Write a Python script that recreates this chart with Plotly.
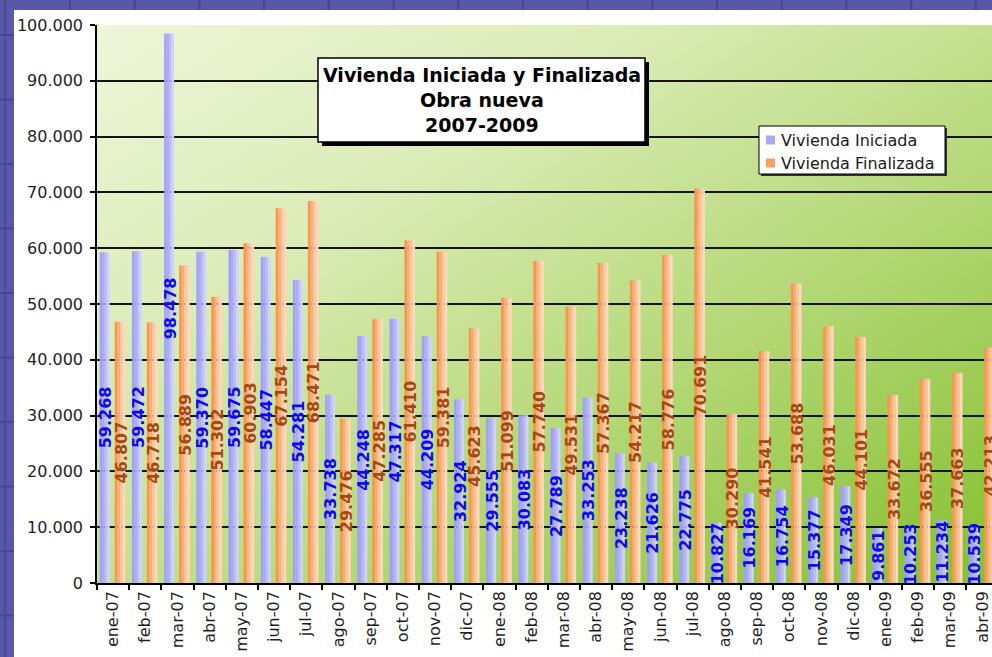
import base64
import plotly.graph_objects as go

# ---- data ----
months = ["ene-07", "feb-07", "mar-07", "abr-07", "may-07", "jun-07", "jul-07",
          "ago-07", "sep-07", "oct-07", "nov-07", "dic-07",
          "ene-08", "feb-08", "mar-08", "abr-08", "may-08", "jun-08", "jul-08",
          "ago-08", "sep-08", "oct-08", "nov-08", "dic-08",
          "ene-09", "feb-09", "mar-09", "abr-09"]

iniciada = [59268, 59472, 98478, 59370, 59675, 58447, 54281, 33738, 44248, 47317,
            44209, 32924, 29555, 30083, 27789, 33253, 23238, 21626, 22775, 10827,
            16169, 16754, 15377, 17349, 9861, 10253, 11234, 10539]

finalizada = [46807, 46718, 56889, 51302, 60903, 67154, 68471, 29476, 47285, 61410,
              59381, 45623, 51099, 57740, 49531, 57367, 54217, 58776, 70691, 30290,
              41541, 53688, 46031, 44101, 33672, 36555, 37663, 42213]

title_lines = ["Vivienda Iniciada y Finalizada", "Obra nueva", "2007-2009"]
series_names = ["Vivienda Iniciada", "Vivienda Finalizada"]

# ---- page geometry (pixels) ----
W_PX, H_PX = 992, 657
L, R, T, B = 97, 0, 25, 74
PW = W_PX - L - R
PH = H_PX - T - B
CAT_PX = 32.2  # width of one month on the axis


def px(x):
    return (x - L) / PW


def py(y):
    return (H_PX - B - y) / PH


def fmt(v):
    return f"{v:,}".replace(",", ".")


fig = go.Figure()

# bars built from narrow strips to imitate the horizontal gradient fill
blue_shades = ["#a0a0f8", "#a9a9fb", "#babafd", "#d2d2ff"]
orange_shades = ["#f7964c", "#f9ad78", "#fbc5a0", "#fdd8be"]


def add_series(values, name, offset, width, shades, label_color):
    n = len(shades)
    for k, c in enumerate(shades):
        fig.add_trace(go.Bar(
            x=months, y=values, name=name,
            offset=offset + k * width / n, width=width / n,
            marker=dict(color=c, line=dict(width=0)),
            showlegend=False,
            hovertemplate="%{x}<br>" + name + ": %{y:,d}<extra></extra>",
        ))
    for i, v in enumerate(values):
        fig.add_annotation(
            x=i + offset + width / 2 + 0.03, y=v / 2,
            text="<b>" + fmt(v) + "</b>", textangle=-90, showarrow=False,
            xanchor="center", yanchor="middle",
            font=dict(family="DejaVu Sans", size=16, color=label_color),
        )


add_series(iniciada, series_names[0], -0.415, 0.31, blue_shades, "#0a0af0")
add_series(finalizada, series_names[1], 0.05, 0.33, orange_shades, "#a54812")

# ---- gradient background of the plot area ----
svg = (
    f'<svg xmlns="http://www.w3.org/2000/svg" width="{PW}" height="{PH}" '
    f'viewBox="0 0 {PW} {PH}" preserveAspectRatio="none">'
    '<defs><linearGradient id="g" x1="0" y1="0" x2="1" y2="1">'
    '<stop offset="0" stop-color="#eef6d8"/>'
    '<stop offset="0.3" stop-color="#dcecb8"/>'
    '<stop offset="0.6" stop-color="#b8da7c"/>'
    '<stop offset="1" stop-color="#84c030"/>'
    '</linearGradient></defs>'
    '<rect width="100%" height="100%" fill="url(#g)"/></svg>'
)
fig.add_layout_image(
    source="data:image/svg+xml;base64," + base64.b64encode(svg.encode()).decode(),
    xref="paper", yref="paper", x=0, y=1, sizex=1, sizey=1,
    xanchor="left", yanchor="top", sizing="stretch", layer="below",
)

shapes = []

# spreadsheet border behind the chart (left and top strips)
border = "#5858aa"
gridc = "#45459a"
shapes.append(dict(type="rect", xref="paper", yref="paper", x0=px(0), x1=px(14),
                   y0=py(H_PX), y1=py(0), fillcolor=border, line=dict(width=0), layer="below"))
shapes.append(dict(type="rect", xref="paper", yref="paper", x0=px(0), x1=px(W_PX),
                   y0=py(10), y1=py(0), fillcolor=border, line=dict(width=0), layer="below"))
yy = 35.0
while yy < H_PX:
    shapes.append(dict(type="line", xref="paper", yref="paper", x0=px(0), x1=px(14),
                       y0=py(yy), y1=py(yy), line=dict(color=gridc, width=2), layer="below"))
    yy += 64.5
xx = 70.0
while xx < W_PX:
    shapes.append(dict(type="line", xref="paper", yref="paper", x0=px(xx), x1=px(xx),
                       y0=py(10), y1=py(0), line=dict(color=gridc, width=2), layer="below"))
    xx += 64.7
shapes.append(dict(type="line", xref="paper", yref="paper", x0=px(5), x1=px(5),
                   y0=py(H_PX), y1=py(0), line=dict(color=gridc, width=1.5), layer="below"))

# title box with drop shadow
shapes.append(dict(type="rect", xref="paper", yref="paper", x0=px(322), x1=px(649),
                   y0=py(146), y1=py(62), fillcolor="black", line=dict(width=0), layer="above"))
shapes.append(dict(type="rect", xref="paper", yref="paper", x0=px(318), x1=px(645),
                   y0=py(142), y1=py(58), fillcolor="white",
                   line=dict(color="black", width=1.5), layer="above"))
for i, line in enumerate(title_lines):
    fig.add_annotation(
        xref="paper", yref="paper", x=px(481.5), y=py(75 + 25 * i),
        text="<b>" + line + "</b>", showarrow=False, xanchor="center", yanchor="middle",
        font=dict(family="DejaVu Sans", size=19, color="black"),
    )

# legend box
shapes.append(dict(type="rect", xref="paper", yref="paper", x0=px(761), x1=px(947),
                   y0=py(176), y1=py(128), fillcolor="#333333", line=dict(width=0), layer="above"))
shapes.append(dict(type="rect", xref="paper", yref="paper", x0=px(759), x1=px(945),
                   y0=py(174), y1=py(126), fillcolor="white",
                   line=dict(color="black", width=1), layer="above"))
swatches = [("#a8a8f8", 140), ("#f8a060", 163)]
for (col, yc), name in zip(swatches, series_names):
    shapes.append(dict(type="rect", xref="paper", yref="paper", x0=px(766), x1=px(775),
                       y0=py(yc + 4.5), y1=py(yc - 4.5), fillcolor=col,
                       line=dict(width=0), layer="above"))
    fig.add_annotation(
        xref="paper", yref="paper", x=px(779), y=py(yc), text=name, showarrow=False,
        xanchor="left", yanchor="middle",
        font=dict(family="DejaVu Sans", size=16, color="#1a1a1a"),
    )

fig.update_layout(
    width=W_PX, height=H_PX, autosize=False,
    margin=dict(l=L, r=R, t=T, b=B, pad=0, autoexpand=False),
    paper_bgcolor="white",
    plot_bgcolor="#d0e6a4",
    barmode="overlay",
    separators=",.",
    showlegend=False,
    shapes=shapes,
    font=dict(family="DejaVu Sans", size=16, color="#1f1f1f"),
    xaxis=dict(
        type="category",
        range=[-0.5, -0.5 + PW / CAT_PX],
        tickson="boundaries",
        ticks="outside", ticklen=5, tickwidth=1.5, tickcolor="black",
        tickangle=-90,
        tickfont=dict(family="DejaVu Sans", size=16, color="#1f1f1f"),
        showgrid=False,
        showline=True, linecolor="black", linewidth=1.5,
        automargin=False,
        fixedrange=True,
    ),
    yaxis=dict(
        range=[0, 100000],
        dtick=10000,
        tickformat=",d",
        ticks="outside", ticklen=5, tickwidth=1.5, tickcolor="black",
        ticklabelstandoff=4,
        tickfont=dict(family="DejaVu Sans", size=16, color="#1f1f1f"),
        showgrid=True, gridcolor="#141414", gridwidth=1.5,
        zeroline=False,
        showline=True, linecolor="black", linewidth=1.5,
        automargin=False,
        fixedrange=True,
    ),
)

# the page body has a default 8px margin and may scroll; drop both
fig.write_html(
    "out.html",
    config={"displayModeBar": False},
    post_script=(
        "document.body.style.margin='0px';"
        "document.body.style.overflow='hidden';"
        "document.documentElement.style.overflow='hidden';"
    ),
)
